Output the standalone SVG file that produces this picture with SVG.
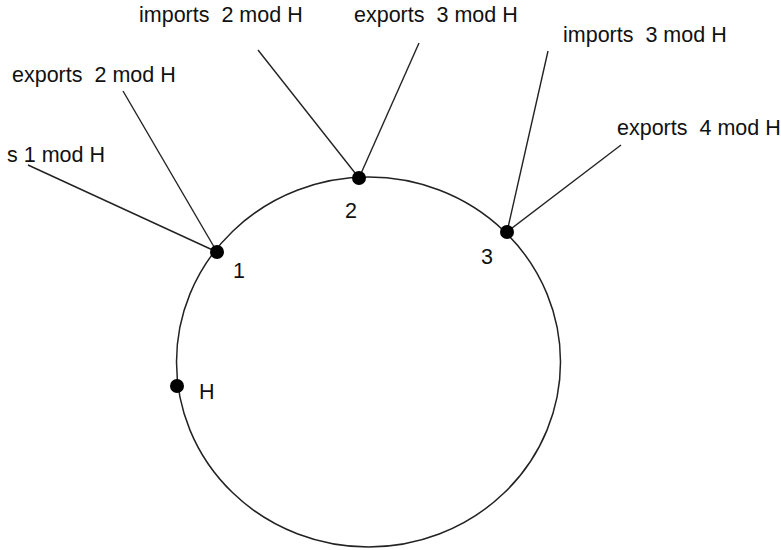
<svg xmlns="http://www.w3.org/2000/svg" width="781" height="550" viewBox="0 0 781 550">
<style>
text{font-family:"Liberation Sans",Arial,sans-serif;font-size:21.5px;fill:#111;white-space:pre}
.c{fill:none;stroke:#222;stroke-width:1.5}
.l{stroke:#222;stroke-width:1.4}
.d{fill:#000}
</style>
<rect width="781" height="550" fill="#fff"/>
<g id="ring"><ellipse class="c" cx="368.5" cy="362" rx="192" ry="185"/></g>
<g id="connectors">
<line class="l" x1="28" y1="165" x2="217" y2="252"/>
<line class="l" x1="123" y1="91" x2="217" y2="252"/>
<line class="l" x1="258" y1="50" x2="359" y2="178"/>
<line class="l" x1="419" y1="43" x2="359" y2="178"/>
<line class="l" x1="548" y1="51" x2="507" y2="232"/>
<line class="l" x1="621" y1="145" x2="507" y2="232"/>
</g>
<g id="node1"><circle class="d" cx="217" cy="252" r="7"/><text x="233" y="278">1</text></g>
<g id="node2"><circle class="d" cx="359" cy="178" r="7"/><text x="345" y="218">2</text></g>
<g id="node3"><circle class="d" cx="507" cy="232" r="7"/><text x="481" y="264">3</text></g>
<g id="nodeH"><circle class="d" cx="177" cy="386" r="7"/><text x="199" y="399">H</text></g>
<g id="labels">
<text x="7" y="162">s 1 mod H</text>
<text x="12" y="82">exports  2 mod H</text>
<text x="139" y="22">imports  2 mod H</text>
<text x="354" y="22">exports  3 mod H</text>
<text x="563" y="42">imports  3 mod H</text>
<text x="617" y="135">exports  4 mod H</text>
</g>
</svg>
